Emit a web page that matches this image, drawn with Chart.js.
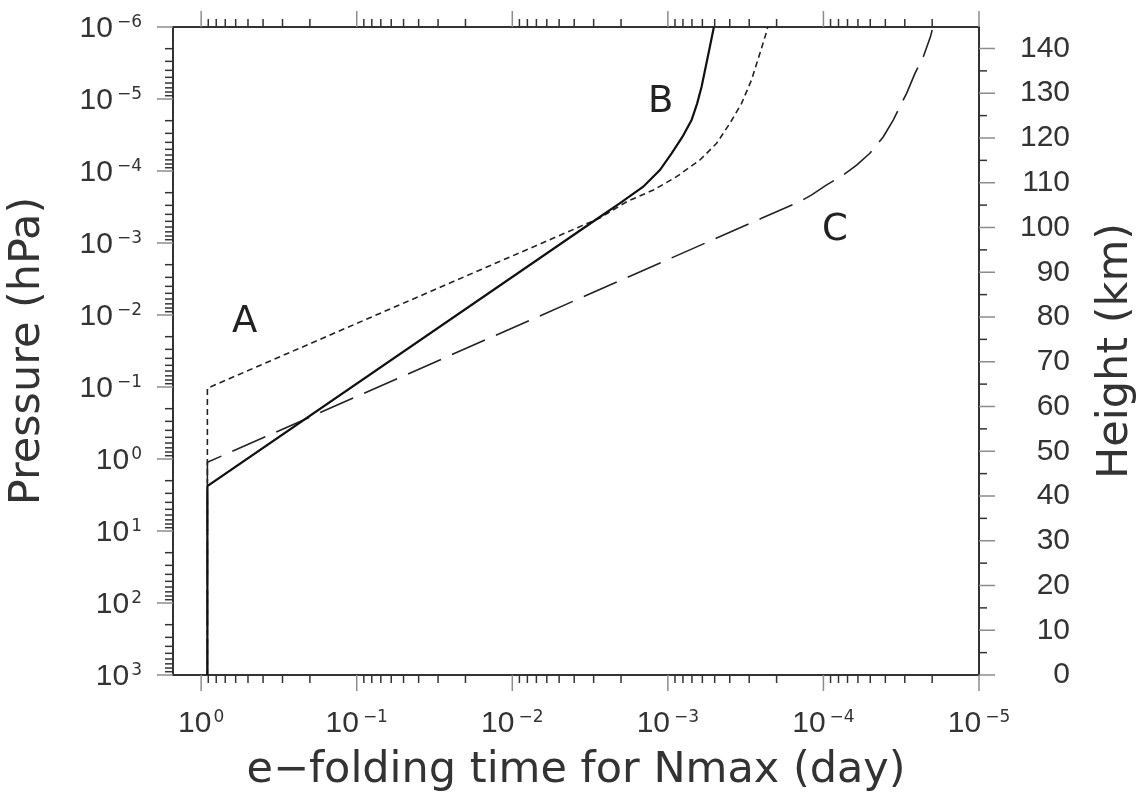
<!DOCTYPE html>
<html>
<head>
<meta charset="utf-8">
<script src="https://cdn.jsdelivr.net/npm/chart.js@4"></script>
<style>
  html, body { margin: 0; background: #fff; }
  canvas { display: block; }
</style>
</head>
<body>
<canvas id="chart" width="1139" height="800"></canvas>
<script>
// e-folding time for Nmax (day) against pressure (hPa)
const timeB = [0.912, 0.912, 2.74e-3, 2.04e-3, 1.44e-3, 1.125e-3, 9.46e-4, 8.05e-4, 7.04e-4, 6.48e-4, 6.07e-4, 5.37e-4, 5.06e-4];
const presB = [1000, 2.37, 4.35e-4, 2.81e-4, 1.65e-4, 9.7e-5, 5.68e-5, 3.34e-5, 1.96e-5, 1.15e-5, 6.75e-6, 1.88e-6, 1e-6];

const timeA = [0.912, 0.912, 2.74e-3, 1.84e-3, 1.24e-3, 8.79e-4, 6.22e-4, 4.86e-4, 3.99e-4, 3.36e-4, 2.9e-4, 2.56e-4, 2.32e-4, 2.28e-4];
const presA = [1000, 0.104, 4.5e-4, 2.67e-4, 1.84e-4, 1.2e-4, 7.03e-5, 4.12e-5, 2.17e-5, 1.15e-5, 5.45e-6, 2.32e-6, 1.16e-6, 1e-6];

const timeC = [0.912, 0.912, 2.5e-4, 1.42e-4, 1.19e-4, 9.53e-5, 7.46e-5, 6.12e-5, 5.03e-5, 4.12e-5, 3.56e-5, 2.92e-5, 2.58e-5, 2.28e-5, 2.05e-5, 2.0e-5];
const presC = [1000, 1.11, 4.54e-4, 2.67e-4, 2.15e-4, 1.56e-4, 1.14e-4, 8.26e-5, 5.68e-5, 3.34e-5, 1.96e-5, 8.34e-6, 4.4e-6, 2.59e-6, 1.36e-6, 1.1e-6];

const timeTicks = [1, 1e-1, 1e-2, 1e-3, 1e-4, 1e-5];
const presTicks = [1e-6, 1e-5, 1e-4, 1e-3, 1e-2, 1e-1, 1, 10, 100, 1000];
const heightTicks = [0, 10, 20, 30, 40, 50, 60, 70, 80, 90, 100, 110, 120, 130, 140];

// curve labels in data units
const curveNames = ['A', 'B', 'C'];
const nameTime = [0.525, 1.11e-3, 8.43e-5];
const namePres = [0.0125, 1.1e-5, 6.6e-4];

const pts = (t, p) => t.map((x, i) => ({x: x, y: p[i]}));

// fixed axis box sizes so the plot frame lands where the original one is
const boxSize = (w, h) => s => {
  if (w !== null) s.width = w;
  if (h !== null) s.height = h;
  s.paddingTop = s.paddingBottom = s.paddingLeft = s.paddingRight = 0;
};

const tickFont = {family: 'Liberation Sans', size: 30};
const titleFont = {family: 'DejaVu Sans', size: 43, lineHeight: 1};
const frame = {color: '#333', width: 2};

// outward tick marks, long for decades / every 10 km, short in between
const axisTicks = {
  id: 'axisTicks',
  afterDraw(chart) {
    const {ctx, chartArea: a, scales} = chart;
    const mark = (x1, y1, x2, y2, major) => {
      ctx.strokeStyle = major ? '#8c8c8c' : '#333';
      ctx.lineWidth = 1.5;
      ctx.beginPath();
      ctx.moveTo(x1, y1);
      ctx.lineTo(x2, y2);
      ctx.stroke();
    };
    ctx.save();
    for (let n = -5; n <= 0; n++) {
      for (let m = 1; m <= 9; m++) {
        const v = m * Math.pow(10, n);
        if (v > scales.x.max) continue;
        const px = scales.x.getPixelForValue(v);
        const len = m === 1 ? 16 : 8;
        mark(px, a.bottom, px, a.bottom + len, m === 1);
        mark(px, a.top, px, a.top - len, m === 1);
      }
    }
    for (let n = -6; n <= 3; n++) {
      for (let m = 1; m <= 9; m++) {
        const v = m * Math.pow(10, n);
        if (v > 1000) continue;
        const py = scales.y.getPixelForValue(v);
        mark(a.left - (m === 1 ? 16 : 8), py, a.left, py, m === 1);
      }
    }
    for (let h = 0; h <= 140; h += 5) {
      const py = scales.yH.getPixelForValue(h);
      const major = h % 10 === 0;
      mark(a.right, py, a.right + (major ? 16 : 8), py, major);
    }
    ctx.restore();
  }
};

// "10" with a raised exponent for the two log axes
const powerLabels = {
  id: 'powerLabels',
  afterDraw(chart) {
    const {ctx, chartArea: a, scales} = chart;
    const baseFont = '30px "Liberation Sans"';
    const expFont = '17px "DejaVu Sans"';
    const draw = (v, x, y, align) => {
      const e = String(Math.round(Math.log10(v))).replace('-', '\u2212');
      ctx.font = baseFont;
      const wb = ctx.measureText('10').width;
      ctx.font = expFont;
      const we = ctx.measureText(e).width;
      const gap = e[0] === '\u2212' ? 4 : 2;
      const w = wb + gap + we;
      const x0 = align === 'right' ? x - w : x - w / 2;
      ctx.font = baseFont;
      ctx.fillText('10', x0, y);
      ctx.font = expFont;
      ctx.fillText(e, x0 + wb + gap, y - 10);
    };
    ctx.save();
    ctx.fillStyle = '#333';
    ctx.textAlign = 'left';
    ctx.textBaseline = 'alphabetic';
    timeTicks.forEach(v => draw(v, scales.x.getPixelForValue(v), a.bottom + 57, 'center'));
    presTicks.forEach(v => draw(v, a.left - 31, scales.y.getPixelForValue(v) + 10, 'right'));
    ctx.restore();
  }
};

const textExtras = {
  id: 'textExtras',
  afterDraw(chart) {
    const {ctx, chartArea: a, scales} = chart;
    ctx.save();
    ctx.fillStyle = '#222';
    ctx.font = '37px "DejaVu Sans"';
    ctx.textAlign = 'center';
    ctx.textBaseline = 'middle';
    curveNames.forEach((s, i) => {
      ctx.fillText(s, scales.x.getPixelForValue(nameTime[i]), scales.y.getPixelForValue(namePres[i]));
    });
    ctx.fillStyle = '#333';
    ctx.font = '43px "DejaVu Sans"';
    ctx.textBaseline = 'alphabetic';
    ctx.translate(a.right + 148, (a.top + a.bottom) / 2);
    ctx.rotate(-Math.PI / 2);
    ctx.fillText('Height (km)', 0, 0);
    ctx.restore();
  }
};

new Chart(document.getElementById('chart'), {
  type: 'line',
  data: {
    datasets: [
      {label: 'B', data: pts(timeB, presB), borderColor: '#111', borderWidth: 2.2},
      {label: 'A', data: pts(timeA, presA), borderColor: '#222', borderWidth: 1.6, borderDash: [6, 4]},
      {label: 'C', data: pts(timeC, presC), borderColor: '#222', borderWidth: 1.6, borderDash: [36, 12]}
    ]
  },
  options: {
    responsive: false,
    animation: false,
    events: [],
    layout: {padding: {left: 0, right: 69, top: 0, bottom: 0}},
    elements: {point: {radius: 0}, line: {tension: 0, fill: false}},
    scales: {
      x: {
        type: 'logarithmic', position: 'bottom', reverse: true, min: 1e-5, max: 1.517,
        afterFit: boxSize(null, 125),
        ticks: {display: false},
        grid: {display: false, drawTicks: false},
        border: frame,
        title: {display: true, text: 'e\u2212folding time for Nmax (day)', font: titleFont, color: '#333', padding: {top: 0, bottom: 8}}
      },
      x2: {
        type: 'logarithmic', position: 'top', reverse: true, min: 1e-5, max: 1.517,
        afterFit: boxSize(null, 27),
        ticks: {display: false},
        grid: {display: false, drawTicks: false},
        border: frame
      },
      y: {
        type: 'logarithmic', position: 'left', reverse: true, min: 1e-6, max: 1000,
        afterFit: boxSize(173, null),
        ticks: {display: false},
        grid: {display: false, drawTicks: false},
        border: frame,
        title: {display: true, text: 'Pressure (hPa)', font: titleFont, color: '#333', padding: {top: 6, bottom: 0}}
      },
      yH: {
        type: 'linear', position: 'right', min: 0, max: 144.8,
        afterBuildTicks: s => { s.ticks = heightTicks.map(v => ({value: v})); },
        afterFit: boxSize(91, null),
        ticks: {font: tickFont, color: '#333', crossAlign: 'far', autoSkip: false},
        grid: {display: false, drawTicks: false},
        border: frame
      }
    },
    plugins: {legend: {display: false}, tooltip: {enabled: false}}
  },
  plugins: [axisTicks, powerLabels, textExtras]
});
</script>
</body>
</html>
